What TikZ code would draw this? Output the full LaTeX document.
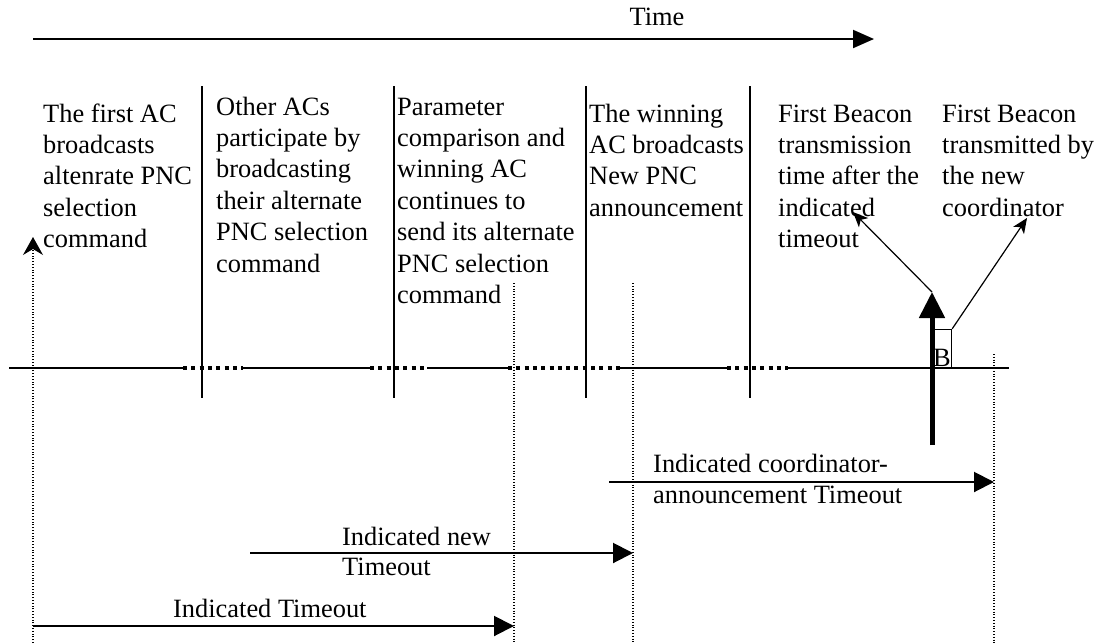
\documentclass[tikz,border=0pt]{standalone}
\usepackage{fontspec}
\setmainfont{Liberation Serif}
\usetikzlibrary{arrows.meta}

\newcommand{\lines}[1]{\begin{tabular}[t]{@{}l@{}}#1\end{tabular}}

\tikzset{
  txt/.style={font=\fontsize{26.4}{31.4}\selectfont, inner sep=0pt, anchor=base west},
  divider/.style={line width=2pt},
  axis/.style={line width=1.6pt},
  gap/.style={line width=3.5pt, dash pattern=on 4pt off 4.3pt},
  mark line/.style={line width=1.2pt, dash pattern=on 1pt off 1.8pt},
  span arrow/.style={line width=2pt, -{Triangle[length=20pt,width=20pt]}},
  pointer/.style={line width=1.2pt, -{Stealth[length=15pt,width=13pt,inset=4pt]}},
}

\begin{document}
\begin{tikzpicture}[x=1pt,y=-1pt]
\useasboundingbox (0,0) rectangle (1097,643);

% time axis
\coordinate (t0) at (33,39);
\coordinate (t1) at (874,39);
\draw[line width=2pt, -{Triangle[length=21pt,width=18pt]}] (t0) -- (t1);
\node[txt, anchor=base] (time) at (657,25) {Time};

% phase descriptions
\node[txt] (p1) at (43,122) {\lines{The first AC\\broadcasts\\altenrate PNC\\selection\\command}};
\node[txt] (p2) at (216,115) {\lines{Other ACs\\participate by\\broadcasting\\their alternate\\PNC selection\\command}};
\node[txt] (p3) at (397,115) {\lines{Parameter\\comparison and\\winning AC\\continues to\\send its alternate\\PNC selection\\command}};
\node[txt] (p4) at (589,122) {\lines{The winning\\AC broadcasts\\New PNC\\announcement}};
\node[txt] (p5) at (778,122) {\lines{First Beacon\\transmission\\time after the\\indicated\\timeout}};
\node[txt] (p6) at (942,122) {\lines{First Beacon\\transmitted by\\the new\\coordinator}};

% phase dividers
\foreach \x/\n in {202/a,394/b,586/c,750/d}{
  \coordinate (d\n0) at (\x,86);
  \coordinate (d\n1) at (\x,398);
  \draw[divider] (d\n0) -- (d\n1);
}

% channel line with idle gaps
\foreach \n/\x in {0/9,1/183,2/243,3/370,4/427,5/508,6/620,7/727,8/788,9/1009}{
  \coordinate (h\n) at (\x,368);
}
\draw[axis] (h0) -- (h1);
\draw[gap]  (h1) -- (h2);
\draw[axis] (h2) -- (h3);
\draw[gap]  (h3) -- (h4);
\draw[axis] (h4) -- (h5);
\draw[gap]  (h5) -- (h6);
\draw[axis] (h6) -- (h7);
\draw[gap]  (h7) -- (h8);
\draw[axis] (h8) -- (h9);

% timeout markers
\coordinate (m0a) at (33,643);  \coordinate (m0b) at (33,237);
\coordinate (m1a) at (514,283); \coordinate (m1b) at (514,643);
\coordinate (m2a) at (633,283); \coordinate (m2b) at (633,643);
\coordinate (m3a) at (994,354); \coordinate (m3b) at (994,643);
\draw[mark line, -{Stealth[length=18pt,width=20pt,inset=6pt]}] (m0a) -- (m0b);
\draw[mark line] (m1a) -- (m1b);
\draw[mark line] (m2a) -- (m2b);
\draw[mark line] (m3a) -- (m3b);

% beacon
\node[draw, line width=1.2pt, minimum width=18pt, minimum height=38pt, inner sep=0pt, anchor=south west] (beacon) at (933,368) {};
\node[txt, anchor=base] (blab) at (942,366) {B};
\coordinate (bt0) at (932,445);
\coordinate (bt1) at (932,292);
\draw[line width=5pt, -{Triangle[length=26pt,width=25pt]}] (bt0) -- (bt1);
\coordinate (q5) at (853,212);
\coordinate (q6) at (1027,218);
\draw[pointer] (bt1) -- (q5);
\draw[pointer] (beacon.north east) -- (q6);

% timeout spans
\coordinate (s1a) at (609,482); \coordinate (s1b) at (994,482);
\draw[span arrow] (s1a) -- (s1b);
\node[txt] (l1) at (653,472) {\lines{Indicated coordinator-\\announcement Timeout}};

\coordinate (s2a) at (250,553); \coordinate (s2b) at (633,553);
\draw[span arrow] (s2a) -- (s2b);
\node[txt] (l2) at (342,545) {Indicated new};
\node[txt] (l2b) at (342,575) {Timeout};

\coordinate (s3a) at (33,626); \coordinate (s3b) at (514,626);
\draw[span arrow] (s3a) -- (s3b);
\node[txt] (l3) at (173,617) {Indicated Timeout};

\end{tikzpicture}
\end{document}
